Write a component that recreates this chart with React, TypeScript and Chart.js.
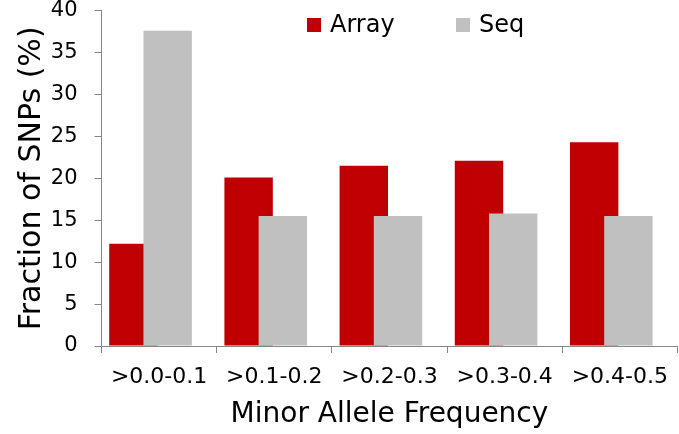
import React, { useEffect, useRef } from "react";
import { Chart, registerables } from "chart.js";

Chart.register(...registerables);

const categories = [">0.0-0.1", ">0.1-0.2", ">0.2-0.3", ">0.3-0.4", ">0.4-0.5"];
const arrayValues = [12.2, 20.1, 21.5, 22.1, 24.3];
const seqValues = [37.6, 15.5, 15.5, 15.8, 15.5];
const seriesNames = ["Array", "Seq"];
const seriesColors = ["#c00000", "#c0c0c0"];
const yMin = 0;
const yMax = 40;
const yStep = 5;
const xTitle = "Minor Allele Frequency";
const yTitle = "Fraction of SNPs (%)";

const FONT = "'DejaVu Sans', sans-serif";
const AXIS_COLOR = "#868686";

// draw datasets in index order so the later series overlaps the earlier one
const drawOrderPlugin = {
  id: "drawOrder",
  beforeDatasetsDraw(chart: any) {
    for (let i = 0; i < chart.data.datasets.length; i++) {
      const meta = chart.getDatasetMeta(i);
      if (meta.visible) meta.controller.draw();
    }
    return false;
  },
};

export default function App() {
  const canvasRef = useRef<HTMLCanvasElement | null>(null);

  useEffect(() => {
    const canvas = canvasRef.current;
    if (!canvas) return;
    const barOpts = { categoryPercentage: 0.594, barPercentage: 2.83, borderWidth: 0 };
    const chart = new Chart(canvas, {
      type: "bar",
      data: {
        labels: categories,
        datasets: [
          { label: seriesNames[0], data: arrayValues, backgroundColor: seriesColors[0], ...barOpts },
          { label: "", data: [], backgroundColor: "transparent", ...barOpts },
          { label: seriesNames[1], data: seqValues, backgroundColor: seriesColors[1], ...barOpts },
          { label: "", data: [], backgroundColor: "transparent", ...barOpts },
        ],
      },
      options: {
        responsive: false,
        animation: false,
        devicePixelRatio: 1,
        layout: { padding: 0 },
        plugins: {
          legend: { display: false },
          tooltip: { enabled: false },
        },
        scales: {
          x: {
            type: "category",
            afterFit: (scale: any) => {
              scale.height = 88;
            },
            border: { display: true, color: AXIS_COLOR, width: 1 },
            grid: {
              display: true,
              offset: true,
              drawOnChartArea: false,
              drawTicks: true,
              tickLength: 7,
              color: AXIS_COLOR,
            },
            ticks: {
              color: "#000",
              padding: 11,
              maxRotation: 0,
              autoSkip: false,
              font: { family: FONT, size: 22 },
            },
            title: {
              display: true,
              text: xTitle,
              color: "#000",
              font: { family: FONT, size: 28 },
              padding: { top: 0, bottom: 2 },
            },
          },
          y: {
            min: yMin,
            max: yMax,
            afterFit: (scale: any) => {
              scale.width = 101.5;
              scale.paddingTop = 10.7;
              scale.paddingBottom = 10.7;
            },
            border: { display: true, color: AXIS_COLOR, width: 1 },
            grid: {
              display: true,
              drawOnChartArea: false,
              drawTicks: true,
              tickLength: 7,
              color: AXIS_COLOR,
            },
            ticks: {
              stepSize: yStep,
              color: "#000",
              padding: 17,
              font: { family: FONT, size: 21, lineHeight: 1.02 },
            },
            title: {
              display: true,
              text: yTitle,
              color: "#000",
              font: { family: FONT, size: 30 },
              padding: { top: 14, bottom: 0 },
            },
          },
        },
      },
      plugins: [drawOrderPlugin],
    } as any);
    return () => chart.destroy();
  }, []);

  const legendX = [307, 456];
  return (
    <div style={{ position: "fixed", left: 0, top: 0, width: 679, height: 434, background: "#fff" }}>
      <canvas ref={canvasRef} width={679} height={434} style={{ display: "block" }} />
      {seriesNames.map((name, i) => (
        <div key={name} style={{ position: "absolute", left: legendX[i], top: 12, height: 24, display: "flex", alignItems: "flex-start" }}>
          <div style={{ width: 14, height: 14, background: seriesColors[i], marginTop: 6, marginRight: 9 }} />
          <span style={{ fontFamily: FONT, fontSize: 24, lineHeight: "24px", color: "#000" }}>{name}</span>
        </div>
      ))}
    </div>
  );
}
